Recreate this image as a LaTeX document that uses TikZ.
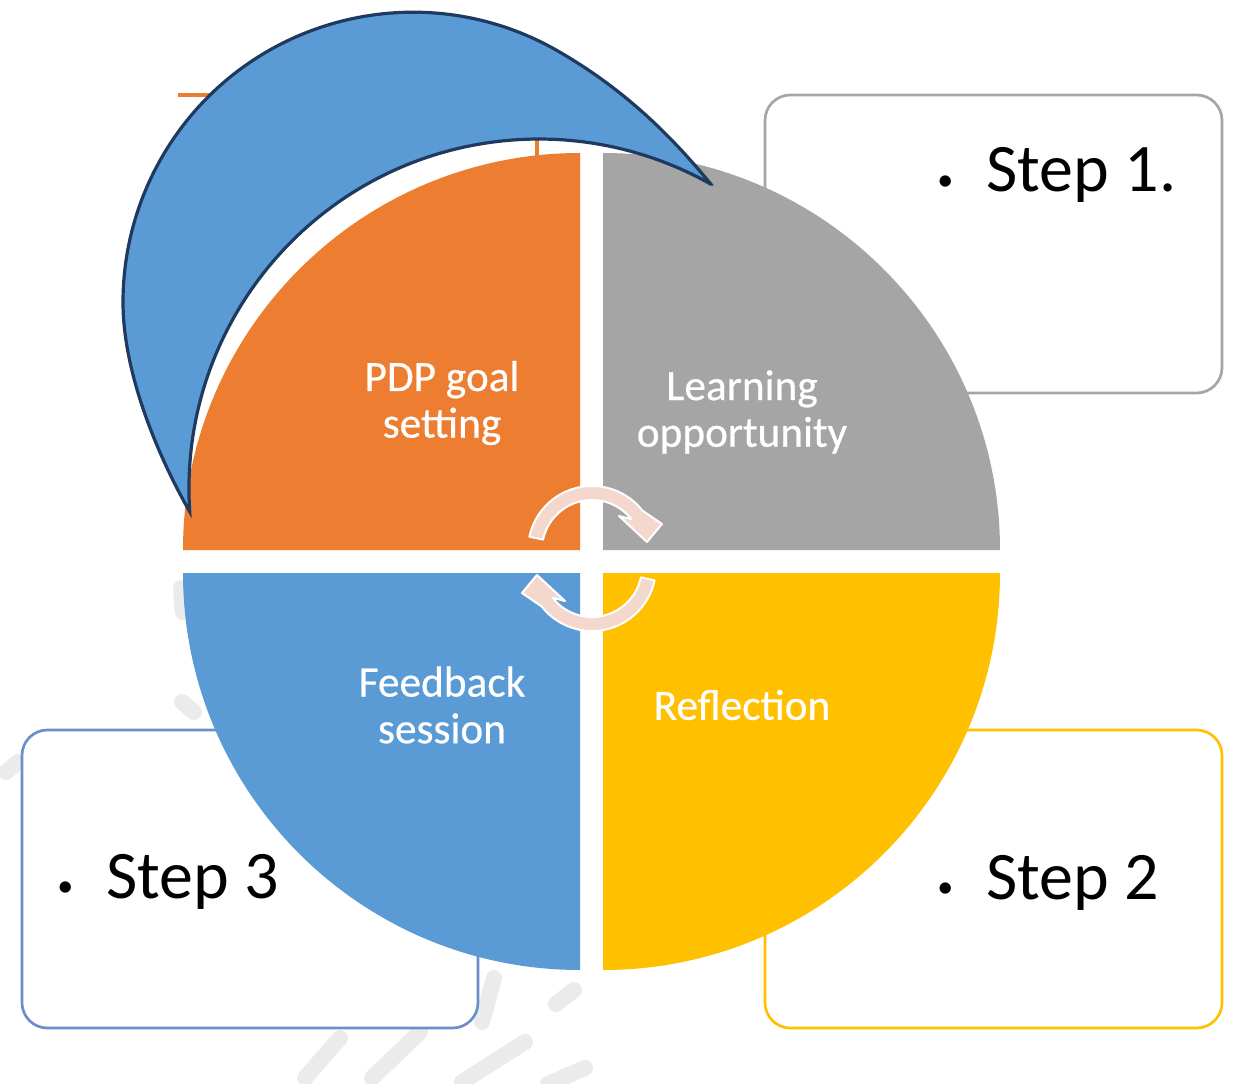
\documentclass[tikz,border=0pt]{standalone}
\usepackage{fontspec}
\setmainfont{Carlito}
\newfontfamily\labelfont[FakeBold=0.5]{Carlito}
\definecolor{qorange}{HTML}{ED7D31}
\definecolor{qgray}{HTML}{A5A5A5}
\definecolor{qyellow}{HTML}{FFC000}
\definecolor{qblue}{HTML}{5B9BD5}
\definecolor{navy}{HTML}{1F3A5F}
\definecolor{boxblue}{HTML}{6B8FCC}
\definecolor{arrowpink}{HTML}{F4D8CE}
\definecolor{wm}{HTML}{EBEBEB}
\newcommand{\smallbullet}{\makebox[0pt][c]{\raisebox{1pt}{\fontsize{24}{24}\selectfont\textbullet}}}
\begin{document}
\begin{tikzpicture}[x=0.75pt,y=-0.75pt,
  stepbox/.style={rounded corners=19pt, line width=2pt, fill=white},
  steptext/.style={anchor=base west, inner sep=0pt, font=\fontsize{51}{60}\selectfont},
  qlabel/.style={text=white, align=center, inner sep=0pt, font=\labelfont\fontsize{32.5}{35}\selectfont},
  cyc/.style={fill=arrowpink, draw=white, line width=1.5pt, line join=round},
  wmark/.style={draw=wm, line width=12pt, line cap=round}]
\useasboundingbox (0,0) rectangle (1233,1084);
\fill[white] (0,0) rectangle (1233,1084);

% faint watermark strokes
\draw[wmark] (305,1078) -- (340,1038);
\draw[wmark] (372,1078) -- (420,1032);
\draw[wmark] (462,1082) -- (525,1042);
\draw[wmark] (482,1022) -- (494,978);
\draw[wmark] (556,1004) -- (574,990);
\draw[wmark] (548,1084) -- (585,1068);
\draw[wmark] (181,588) -- (183,612);
\draw[wmark] (182,702) -- (194,712);
\draw[wmark] (6,772) -- (18,762);

% step boxes (behind the wheel)
\draw[stepbox, draw=qgray] (765,95) rectangle (1222,393);
\draw[stepbox, draw=qyellow] (765,730) rectangle (1222,1028);
\draw[stepbox, draw=boxblue] (22,730) rectangle (478,1028);
% remnant of the hidden orange box
\draw[qorange, line width=2.4pt] (178,95) -- (537,95) -- (537,165);

% quarters
\fill[qorange] (580,550) -- (183,550) arc[start angle=180, end angle=270, radius=397] -- cycle;
\fill[qgray] (603,550) -- (603,153) arc[start angle=270, end angle=360, radius=397] -- cycle;
\fill[qyellow] (603,573) -- (1000,573) arc[start angle=0, end angle=90, radius=397] -- cycle;
\fill[qblue] (580,573) -- (580,970) arc[start angle=90, end angle=180, radius=397] -- cycle;

% cycle arrows
\begin{scope}[shift={(592,550)}]
  \filldraw[cyc] (192:64) arc[start angle=192, end angle=322, radius=64]
    -- (70,-26) -- (55,-8) -- (27,-34) -- (322:50)
    arc[start angle=322, end angle=192, radius=50] -- cycle;
\end{scope}
\begin{scope}[shift={(592,567)}, rotate=180]
  \filldraw[cyc] (192:64) arc[start angle=192, end angle=322, radius=64]
    -- (70,-26) -- (55,-8) -- (27,-34) -- (322:50)
    arc[start angle=322, end angle=192, radius=50] -- cycle;
\end{scope}

% quarter labels
\node[qlabel] (pdp) at (442,403) {PDP goal\\setting};
\node[qlabel] (learn) at (742,412) {Learning\\opportunity};
\node[qlabel] (feed) at (442,705) {Feedback\\session};
\node[qlabel] (refl) at (742,705) {Reflection};

% step texts
\node[steptext] (s1) at (945,192) {\smallbullet\hspace{31pt}Step 1.};
\node[steptext] (s2) at (945,899) {\smallbullet\hspace{31pt}Step 2};
\node[steptext] (s3) at (65,898) {\smallbullet\hspace{31pt}Step 3};

% blue crescent on top
\filldraw[fill=qblue, draw=navy, line width=2.4pt, line join=miter]
  (710.8,184.1) .. controls (669.6,133.9) and (623,88.5) .. (558,51.1)
  arc[start angle=300, end angle=180, radius=290]
  .. controls (123,380) and (164.7,468.3) .. (189.7,511.6)
  arc[start angle=176.3, end angle=299.4, radius=350] -- cycle;
\end{tikzpicture}
\end{document}
